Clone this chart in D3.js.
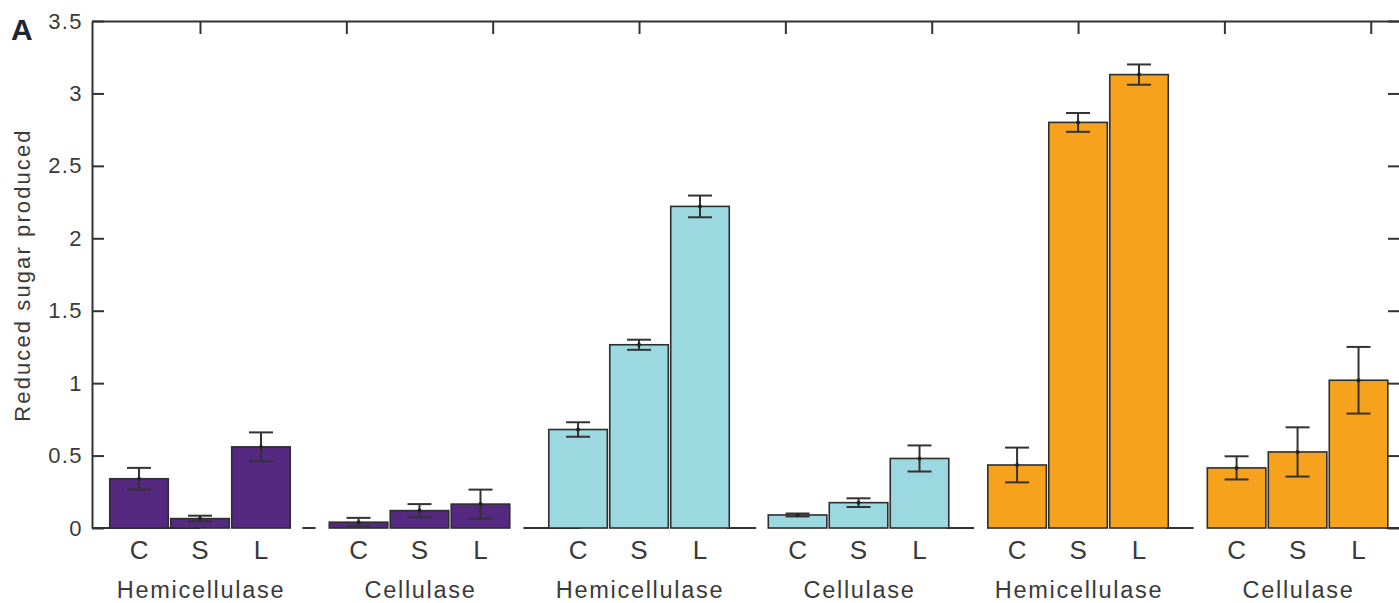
<!DOCTYPE html>
<html>
<head>
<meta charset="utf-8">
<script src="https://cdn.jsdelivr.net/npm/d3@7"></script>
<style>
  html, body { margin: 0; padding: 0; background: #fff; }
  svg text { font-family: "Liberation Sans", Arial, Helvetica, sans-serif; fill: #3a3a3a; }
</style>
</head>
<body>
<svg id="chart" width="1399" height="603"></svg>
<script>
// Treatment groups: each pair (hemicellulase, cellulase) shares a colour
const groupLabels = ["Hemicellulase", "Cellulase", "Hemicellulase", "Cellulase", "Hemicellulase", "Cellulase"];
const pairColors = ["#55297f", "#9cd8df", "#f6a21d"];
const conditions = ["C", "S", "L"];

// Mean reduced sugar per group, in C / S / L order
const means = [
  [0.34, 0.065, 0.56],
  [0.04, 0.12, 0.165],
  [0.68, 1.265, 2.22],
  [0.09, 0.175, 0.48],
  [0.435, 2.80, 3.13],
  [0.415, 0.525, 1.02]
];
// Error half-widths
const errors = [
  [0.075, 0.02, 0.10],
  [0.03, 0.045, 0.10],
  [0.05, 0.035, 0.075],
  [0.01, 0.03, 0.09],
  [0.12, 0.065, 0.07],
  [0.08, 0.17, 0.23]
];
const yTicks = [0, 0.5, 1, 1.5, 2, 2.5, 3, 3.5];
const xTicks = [1, 2, 3, 4, 5, 6, 7, 8, 9];
// Visible stretches of the zero baseline, in x-axis units
const baselineSpans = [[0.262, 1.0], [1.70, 1.79], [3.21, 3.6], [4.6, 4.80], [6.1, 6.29], [7.6, 7.79], [9.1, 9.25]];

const svg = d3.select("#chart");
const x = d3.scaleLinear().domain([0.262, 9.2]).range([92, 1400]);
const y = d3.scaleLinear().domain([0, 3.5]).range([528, 21]);

const groupCenter = i => 1 + i * 1.5;
const barPitch = 5 / 12;
const barWidth = 0.4;
const ink = "#333";

// Baseline pieces
svg.append("g").selectAll("line").data(baselineSpans).join("line")
  .attr("x1", d => x(d[0])).attr("x2", d => x(d[1]))
  .attr("y1", y(0)).attr("y2", y(0))
  .attr("stroke", ink).attr("stroke-width", 2);

// Flatten bars
const bars = [];
means.forEach((g, gi) => g.forEach((v, ci) => {
  bars.push({ gi, ci, v, e: errors[gi][ci], cx: groupCenter(gi) + (ci - 1) * barPitch, color: pairColors[Math.floor(gi / 2)] });
}));

svg.append("g").selectAll("rect").data(bars).join("rect")
  .attr("x", d => x(d.cx - barWidth / 2))
  .attr("width", d => x(d.cx + barWidth / 2) - x(d.cx - barWidth / 2))
  .attr("y", d => y(d.v))
  .attr("height", d => y(0) - y(d.v))
  .attr("fill", d => d.color)
  .attr("stroke", "#2e2e2e").attr("stroke-width", 1.6);

// Error bars
const eb = svg.append("g").attr("stroke", ink).attr("stroke-width", 2);
const capHalf = 12;
bars.forEach(d => {
  const cx = x(d.cx);
  eb.append("line").attr("x1", cx).attr("x2", cx).attr("y1", y(d.v + d.e)).attr("y2", y(Math.max(0, d.v - d.e)));
  eb.append("line").attr("x1", cx - capHalf).attr("x2", cx + capHalf).attr("y1", y(d.v + d.e)).attr("y2", y(d.v + d.e));
  eb.append("line").attr("x1", cx - capHalf).attr("x2", cx + capHalf).attr("y1", y(Math.max(0, d.v - d.e))).attr("y2", y(Math.max(0, d.v - d.e)));
});
svg.append("g").selectAll("circle").data(bars).join("circle")
  .attr("cx", d => x(d.cx)).attr("cy", d => y(d.v)).attr("r", 2).attr("fill", "#222");

// Axes (ticks point inward)
function styleAxis(g) {
  g.selectAll("path.domain").attr("stroke", ink).attr("stroke-width", 2);
  g.selectAll(".tick line").attr("stroke", ink).attr("stroke-width", 2);
}
const leftAxis = svg.append("g").attr("transform", `translate(${x(0.262)},0)`)
  .call(d3.axisLeft(y).tickValues(yTicks).tickSize(-12).tickSizeOuter(0).tickPadding(9).tickFormat(d3.format("~g")));
styleAxis(leftAxis);
leftAxis.selectAll(".tick text").attr("font-size", 22).attr("letter-spacing", 1.4)
  .attr("font-family", "'Liberation Sans', Arial, sans-serif").attr("fill", "#3a3a3a");

const topAxis = svg.append("g").attr("transform", `translate(0,${y(3.5)})`)
  .call(d3.axisTop(x).tickValues(xTicks).tickSize(-13).tickSizeOuter(0).tickFormat(""));
styleAxis(topAxis);

const rightAxis = svg.append("g").attr("transform", `translate(${x(9.2)},0)`)
  .call(d3.axisRight(y).tickValues(yTicks).tickSize(-12).tickSizeOuter(0).tickFormat(""));
styleAxis(rightAxis);

// Condition labels
svg.append("g").selectAll("text").data(bars).join("text")
  .attr("x", d => x(d.cx)).attr("y", 559)
  .attr("text-anchor", "middle").attr("font-size", 26)
  .text(d => conditions[d.ci]);

// Enzyme labels
svg.append("g").selectAll("text").data(groupLabels).join("text")
  .attr("x", (d, i) => x(groupCenter(i)) + 1).attr("y", 598)
  .attr("text-anchor", "middle").attr("font-size", 23.5).attr("letter-spacing", 1.7)
  .text(d => d);

// Y axis title
svg.append("text")
  .attr("transform", "translate(30,275) rotate(-90)")
  .attr("text-anchor", "middle").attr("font-size", 22).attr("letter-spacing", 2.1)
  .text("Reduced sugar produced");

// Panel letter
svg.append("text").attr("x", 11).attr("y", 40)
  .attr("font-size", 30).attr("font-weight", "bold").style("fill", "#1d2633")
  .text("A");
</script>
</body>
</html>
